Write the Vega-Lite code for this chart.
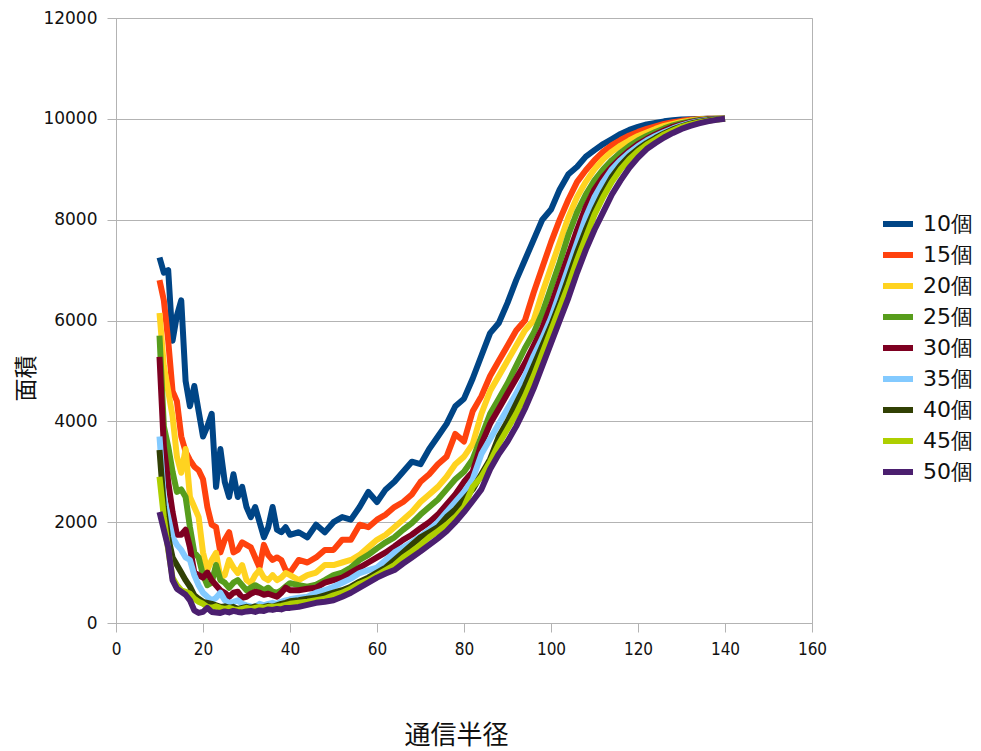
{
"$schema": "https://vega.github.io/schema/vega-lite/v6.json",
"width": 696, "height": 605,
"autosize": {"type": "none"},
"padding": {"left": 116, "top": 18, "right": 169, "bottom": 128},
"background": "white",
"config": {"view": {"stroke": "#b3b3b3", "strokeWidth": 1}},
"datasets": {
"s10": [{"x":10,"y":7250},{"x":11,"y":6950},{"x":12,"y":7000},{"x":13,"y":5600},{"x":14,"y":6100},{"x":15,"y":6400},{"x":16,"y":4800},{"x":17,"y":4300},{"x":18,"y":4700},{"x":19,"y":4200},{"x":20,"y":3700},{"x":21,"y":3900},{"x":22,"y":4150},{"x":23,"y":2700},{"x":24,"y":3450},{"x":25,"y":2800},{"x":26,"y":2500},{"x":27,"y":2950},{"x":28,"y":2500},{"x":29,"y":2700},{"x":30,"y":2300},{"x":31,"y":2100},{"x":32,"y":2300},{"x":33,"y":2000},{"x":34,"y":1700},{"x":35,"y":1900},{"x":36,"y":2300},{"x":37,"y":1850},{"x":38,"y":1800},{"x":39,"y":1900},{"x":40,"y":1750},{"x":42,"y":1800},{"x":44,"y":1700},{"x":46,"y":1950},{"x":48,"y":1800},{"x":50,"y":2000},{"x":52,"y":2100},{"x":54,"y":2050},{"x":56,"y":2300},{"x":58,"y":2600},{"x":60,"y":2400},{"x":62,"y":2650},{"x":64,"y":2800},{"x":66,"y":3000},{"x":68,"y":3200},{"x":70,"y":3150},{"x":72,"y":3450},{"x":74,"y":3700},{"x":76,"y":3950},{"x":78,"y":4300},{"x":80,"y":4450},{"x":82,"y":4850},{"x":84,"y":5300},{"x":86,"y":5750},{"x":88,"y":5950},{"x":90,"y":6350},{"x":92,"y":6800},{"x":94,"y":7200},{"x":96,"y":7600},{"x":98,"y":8000},{"x":100,"y":8200},{"x":102,"y":8600},{"x":104,"y":8900},{"x":106,"y":9050},{"x":108,"y":9250},{"x":110,"y":9380},{"x":112,"y":9500},{"x":114,"y":9600},{"x":116,"y":9700},{"x":118,"y":9780},{"x":120,"y":9840},{"x":122,"y":9890},{"x":124,"y":9920},{"x":126,"y":9950},{"x":128,"y":9970},{"x":130,"y":9985},{"x":132,"y":9990},{"x":134,"y":9995},{"x":136,"y":10000},{"x":138,"y":10000},{"x":140,"y":10000}],
"s15": [{"x":10,"y":6800},{"x":11,"y":6400},{"x":12,"y":5600},{"x":13,"y":4600},{"x":14,"y":4400},{"x":15,"y":3700},{"x":16,"y":3400},{"x":17,"y":3230},{"x":18,"y":3100},{"x":19,"y":3030},{"x":20,"y":2850},{"x":21,"y":2300},{"x":22,"y":1950},{"x":23,"y":1900},{"x":24,"y":1400},{"x":25,"y":1650},{"x":26,"y":1800},{"x":27,"y":1400},{"x":28,"y":1450},{"x":29,"y":1600},{"x":30,"y":1550},{"x":31,"y":1500},{"x":32,"y":1300},{"x":33,"y":1100},{"x":34,"y":1550},{"x":35,"y":1350},{"x":36,"y":1250},{"x":37,"y":1300},{"x":38,"y":1250},{"x":39,"y":1050},{"x":40,"y":1000},{"x":42,"y":1250},{"x":44,"y":1200},{"x":46,"y":1300},{"x":48,"y":1450},{"x":50,"y":1450},{"x":52,"y":1650},{"x":54,"y":1650},{"x":56,"y":1950},{"x":58,"y":1900},{"x":60,"y":2050},{"x":62,"y":2150},{"x":64,"y":2300},{"x":66,"y":2400},{"x":68,"y":2550},{"x":70,"y":2800},{"x":72,"y":2950},{"x":74,"y":3150},{"x":76,"y":3300},{"x":78,"y":3750},{"x":80,"y":3600},{"x":82,"y":4200},{"x":84,"y":4500},{"x":86,"y":4900},{"x":88,"y":5200},{"x":90,"y":5500},{"x":92,"y":5800},{"x":94,"y":6000},{"x":96,"y":6550},{"x":98,"y":7050},{"x":100,"y":7550},{"x":102,"y":8000},{"x":104,"y":8400},{"x":106,"y":8750},{"x":108,"y":8980},{"x":110,"y":9180},{"x":112,"y":9350},{"x":114,"y":9480},{"x":116,"y":9580},{"x":118,"y":9670},{"x":120,"y":9740},{"x":122,"y":9800},{"x":124,"y":9850},{"x":126,"y":9900},{"x":128,"y":9935},{"x":130,"y":9960},{"x":132,"y":9980},{"x":134,"y":9990},{"x":136,"y":10000},{"x":138,"y":10000},{"x":140,"y":10000}],
"s20": [{"x":10,"y":6150},{"x":11,"y":5100},{"x":12,"y":4600},{"x":13,"y":4100},{"x":14,"y":3300},{"x":15,"y":2980},{"x":16,"y":3450},{"x":17,"y":2500},{"x":18,"y":2300},{"x":19,"y":2100},{"x":20,"y":1400},{"x":21,"y":1050},{"x":22,"y":1250},{"x":23,"y":1390},{"x":24,"y":900},{"x":25,"y":950},{"x":26,"y":1250},{"x":27,"y":1100},{"x":28,"y":990},{"x":29,"y":1150},{"x":30,"y":850},{"x":31,"y":790},{"x":32,"y":950},{"x":33,"y":1050},{"x":34,"y":900},{"x":35,"y":850},{"x":36,"y":950},{"x":37,"y":850},{"x":38,"y":900},{"x":39,"y":990},{"x":40,"y":950},{"x":42,"y":850},{"x":44,"y":950},{"x":46,"y":1000},{"x":48,"y":1150},{"x":50,"y":1150},{"x":52,"y":1200},{"x":54,"y":1250},{"x":56,"y":1350},{"x":58,"y":1500},{"x":60,"y":1650},{"x":62,"y":1750},{"x":64,"y":1900},{"x":66,"y":2050},{"x":68,"y":2200},{"x":70,"y":2400},{"x":72,"y":2550},{"x":74,"y":2700},{"x":76,"y":2900},{"x":78,"y":3150},{"x":80,"y":3300},{"x":82,"y":3550},{"x":84,"y":4150},{"x":86,"y":4600},{"x":88,"y":4900},{"x":90,"y":5200},{"x":92,"y":5500},{"x":94,"y":5800},{"x":96,"y":6000},{"x":98,"y":6550},{"x":100,"y":7050},{"x":102,"y":7550},{"x":104,"y":8050},{"x":106,"y":8450},{"x":108,"y":8750},{"x":110,"y":9000},{"x":112,"y":9200},{"x":114,"y":9350},{"x":116,"y":9470},{"x":118,"y":9570},{"x":120,"y":9660},{"x":122,"y":9730},{"x":124,"y":9800},{"x":126,"y":9860},{"x":128,"y":9900},{"x":130,"y":9940},{"x":132,"y":9965},{"x":134,"y":9985},{"x":136,"y":9995},{"x":138,"y":10000},{"x":140,"y":10000}],
"s25": [{"x":10,"y":5700},{"x":11,"y":3900},{"x":12,"y":3500},{"x":13,"y":3000},{"x":14,"y":2600},{"x":15,"y":2650},{"x":16,"y":2500},{"x":17,"y":1900},{"x":18,"y":1400},{"x":19,"y":1300},{"x":20,"y":950},{"x":21,"y":750},{"x":22,"y":800},{"x":23,"y":1150},{"x":24,"y":850},{"x":25,"y":800},{"x":26,"y":700},{"x":27,"y":800},{"x":28,"y":850},{"x":29,"y":750},{"x":30,"y":650},{"x":31,"y":700},{"x":32,"y":750},{"x":33,"y":700},{"x":34,"y":650},{"x":35,"y":700},{"x":36,"y":620},{"x":37,"y":600},{"x":38,"y":650},{"x":39,"y":720},{"x":40,"y":790},{"x":42,"y":750},{"x":44,"y":720},{"x":46,"y":760},{"x":48,"y":850},{"x":50,"y":950},{"x":52,"y":1000},{"x":54,"y":1100},{"x":56,"y":1250},{"x":58,"y":1350},{"x":60,"y":1480},{"x":62,"y":1600},{"x":64,"y":1700},{"x":66,"y":1850},{"x":68,"y":1980},{"x":70,"y":2150},{"x":72,"y":2300},{"x":74,"y":2450},{"x":76,"y":2650},{"x":78,"y":2850},{"x":80,"y":3000},{"x":82,"y":3250},{"x":84,"y":3700},{"x":86,"y":4150},{"x":88,"y":4450},{"x":90,"y":4750},{"x":92,"y":5100},{"x":94,"y":5450},{"x":96,"y":5750},{"x":98,"y":6150},{"x":100,"y":6650},{"x":102,"y":7150},{"x":104,"y":7700},{"x":106,"y":8150},{"x":108,"y":8500},{"x":110,"y":8780},{"x":112,"y":9000},{"x":114,"y":9180},{"x":116,"y":9330},{"x":118,"y":9460},{"x":120,"y":9570},{"x":122,"y":9660},{"x":124,"y":9740},{"x":126,"y":9810},{"x":128,"y":9870},{"x":130,"y":9915},{"x":132,"y":9950},{"x":134,"y":9975},{"x":136,"y":9990},{"x":138,"y":10000},{"x":140,"y":10000}],
"s30": [{"x":10,"y":5280},{"x":11,"y":3500},{"x":12,"y":2800},{"x":13,"y":2200},{"x":14,"y":1750},{"x":15,"y":1750},{"x":16,"y":1850},{"x":17,"y":1500},{"x":18,"y":1000},{"x":19,"y":950},{"x":20,"y":900},{"x":21,"y":1000},{"x":22,"y":850},{"x":23,"y":750},{"x":24,"y":650},{"x":25,"y":600},{"x":26,"y":520},{"x":27,"y":600},{"x":28,"y":620},{"x":29,"y":500},{"x":30,"y":520},{"x":31,"y":580},{"x":32,"y":620},{"x":33,"y":600},{"x":34,"y":560},{"x":35,"y":580},{"x":36,"y":550},{"x":37,"y":520},{"x":38,"y":600},{"x":39,"y":700},{"x":40,"y":650},{"x":42,"y":650},{"x":44,"y":680},{"x":46,"y":700},{"x":48,"y":800},{"x":50,"y":850},{"x":52,"y":900},{"x":54,"y":1000},{"x":56,"y":1100},{"x":58,"y":1200},{"x":60,"y":1300},{"x":62,"y":1400},{"x":64,"y":1520},{"x":66,"y":1650},{"x":68,"y":1750},{"x":70,"y":1880},{"x":72,"y":2000},{"x":74,"y":2150},{"x":76,"y":2350},{"x":78,"y":2550},{"x":80,"y":2800},{"x":82,"y":3000},{"x":84,"y":3550},{"x":86,"y":3950},{"x":88,"y":4250},{"x":90,"y":4550},{"x":92,"y":4850},{"x":94,"y":5150},{"x":96,"y":5500},{"x":98,"y":5850},{"x":100,"y":6300},{"x":102,"y":6800},{"x":104,"y":7300},{"x":106,"y":7800},{"x":108,"y":8250},{"x":110,"y":8600},{"x":112,"y":8850},{"x":114,"y":9050},{"x":116,"y":9220},{"x":118,"y":9370},{"x":120,"y":9500},{"x":122,"y":9600},{"x":124,"y":9690},{"x":126,"y":9770},{"x":128,"y":9840},{"x":130,"y":9890},{"x":132,"y":9935},{"x":134,"y":9965},{"x":136,"y":9985},{"x":138,"y":9995},{"x":140,"y":10000}],
"s35": [{"x":10,"y":3700},{"x":11,"y":2500},{"x":12,"y":2100},{"x":13,"y":1700},{"x":14,"y":1550},{"x":15,"y":1450},{"x":16,"y":1300},{"x":17,"y":1250},{"x":18,"y":950},{"x":19,"y":750},{"x":20,"y":600},{"x":21,"y":520},{"x":22,"y":450},{"x":23,"y":500},{"x":24,"y":600},{"x":25,"y":450},{"x":26,"y":400},{"x":27,"y":420},{"x":28,"y":450},{"x":29,"y":380},{"x":30,"y":350},{"x":31,"y":330},{"x":32,"y":320},{"x":33,"y":380},{"x":34,"y":350},{"x":35,"y":380},{"x":36,"y":400},{"x":37,"y":380},{"x":38,"y":420},{"x":39,"y":450},{"x":40,"y":470},{"x":42,"y":500},{"x":44,"y":520},{"x":46,"y":600},{"x":48,"y":650},{"x":50,"y":720},{"x":52,"y":800},{"x":54,"y":880},{"x":56,"y":990},{"x":58,"y":1050},{"x":60,"y":1100},{"x":62,"y":1250},{"x":64,"y":1400},{"x":66,"y":1500},{"x":68,"y":1600},{"x":70,"y":1720},{"x":72,"y":1850},{"x":74,"y":2000},{"x":76,"y":2200},{"x":78,"y":2400},{"x":80,"y":2600},{"x":82,"y":2850},{"x":84,"y":3350},{"x":86,"y":3650},{"x":88,"y":3950},{"x":90,"y":4250},{"x":92,"y":4550},{"x":94,"y":4900},{"x":96,"y":5300},{"x":98,"y":5650},{"x":100,"y":6050},{"x":102,"y":6550},{"x":104,"y":7050},{"x":106,"y":7550},{"x":108,"y":8050},{"x":110,"y":8450},{"x":112,"y":8750},{"x":114,"y":9000},{"x":116,"y":9180},{"x":118,"y":9330},{"x":120,"y":9460},{"x":122,"y":9570},{"x":124,"y":9660},{"x":126,"y":9740},{"x":128,"y":9810},{"x":130,"y":9870},{"x":132,"y":9920},{"x":134,"y":9955},{"x":136,"y":9975},{"x":138,"y":9990},{"x":140,"y":10000}],
"s40": [{"x":10,"y":3430},{"x":11,"y":2300},{"x":12,"y":1700},{"x":13,"y":1300},{"x":14,"y":1150},{"x":15,"y":1000},{"x":16,"y":850},{"x":17,"y":720},{"x":18,"y":550},{"x":19,"y":480},{"x":20,"y":420},{"x":21,"y":400},{"x":22,"y":380},{"x":23,"y":350},{"x":24,"y":320},{"x":25,"y":330},{"x":26,"y":300},{"x":27,"y":320},{"x":28,"y":280},{"x":29,"y":300},{"x":30,"y":320},{"x":31,"y":300},{"x":32,"y":330},{"x":33,"y":310},{"x":34,"y":320},{"x":35,"y":340},{"x":36,"y":320},{"x":37,"y":350},{"x":38,"y":380},{"x":39,"y":400},{"x":40,"y":430},{"x":42,"y":450},{"x":44,"y":480},{"x":46,"y":500},{"x":48,"y":550},{"x":50,"y":600},{"x":52,"y":650},{"x":54,"y":720},{"x":56,"y":820},{"x":58,"y":900},{"x":60,"y":1000},{"x":62,"y":1100},{"x":64,"y":1250},{"x":66,"y":1400},{"x":68,"y":1550},{"x":70,"y":1700},{"x":72,"y":1800},{"x":74,"y":1900},{"x":76,"y":2100},{"x":78,"y":2250},{"x":80,"y":2450},{"x":82,"y":2650},{"x":84,"y":2950},{"x":86,"y":3250},{"x":88,"y":3700},{"x":90,"y":4000},{"x":92,"y":4350},{"x":94,"y":4700},{"x":96,"y":5100},{"x":98,"y":5500},{"x":100,"y":5900},{"x":102,"y":6350},{"x":104,"y":6850},{"x":106,"y":7350},{"x":108,"y":7800},{"x":110,"y":8200},{"x":112,"y":8550},{"x":114,"y":8850},{"x":116,"y":9080},{"x":118,"y":9260},{"x":120,"y":9400},{"x":122,"y":9520},{"x":124,"y":9620},{"x":126,"y":9710},{"x":128,"y":9790},{"x":130,"y":9850},{"x":132,"y":9905},{"x":134,"y":9945},{"x":136,"y":9970},{"x":138,"y":9990},{"x":140,"y":10000}],
"s45": [{"x":10,"y":2900},{"x":11,"y":2100},{"x":12,"y":1450},{"x":13,"y":900},{"x":14,"y":750},{"x":15,"y":650},{"x":16,"y":620},{"x":17,"y":580},{"x":18,"y":480},{"x":19,"y":420},{"x":20,"y":380},{"x":21,"y":320},{"x":22,"y":300},{"x":23,"y":330},{"x":24,"y":300},{"x":25,"y":280},{"x":26,"y":300},{"x":27,"y":270},{"x":28,"y":260},{"x":29,"y":280},{"x":30,"y":300},{"x":31,"y":280},{"x":32,"y":300},{"x":33,"y":320},{"x":34,"y":300},{"x":35,"y":320},{"x":36,"y":320},{"x":37,"y":330},{"x":38,"y":340},{"x":39,"y":360},{"x":40,"y":380},{"x":42,"y":400},{"x":44,"y":420},{"x":46,"y":450},{"x":48,"y":480},{"x":50,"y":550},{"x":52,"y":600},{"x":54,"y":680},{"x":56,"y":780},{"x":58,"y":850},{"x":60,"y":950},{"x":62,"y":1050},{"x":64,"y":1150},{"x":66,"y":1300},{"x":68,"y":1420},{"x":70,"y":1550},{"x":72,"y":1700},{"x":74,"y":1820},{"x":76,"y":1950},{"x":78,"y":2100},{"x":80,"y":2300},{"x":82,"y":2700},{"x":84,"y":2900},{"x":86,"y":3200},{"x":88,"y":3550},{"x":90,"y":3850},{"x":92,"y":4150},{"x":94,"y":4500},{"x":96,"y":4900},{"x":98,"y":5350},{"x":100,"y":5800},{"x":102,"y":6250},{"x":104,"y":6700},{"x":106,"y":7200},{"x":108,"y":7650},{"x":110,"y":8100},{"x":112,"y":8450},{"x":114,"y":8750},{"x":116,"y":9000},{"x":118,"y":9200},{"x":120,"y":9360},{"x":122,"y":9490},{"x":124,"y":9590},{"x":126,"y":9690},{"x":128,"y":9770},{"x":130,"y":9840},{"x":132,"y":9890},{"x":134,"y":9930},{"x":136,"y":9960},{"x":138,"y":9985},{"x":140,"y":10000}],
"s50": [{"x":10,"y":2200},{"x":11,"y":1850},{"x":12,"y":1500},{"x":13,"y":850},{"x":14,"y":680},{"x":15,"y":620},{"x":16,"y":560},{"x":17,"y":450},{"x":18,"y":250},{"x":19,"y":200},{"x":20,"y":220},{"x":21,"y":300},{"x":22,"y":220},{"x":23,"y":210},{"x":24,"y":200},{"x":25,"y":230},{"x":26,"y":210},{"x":27,"y":240},{"x":28,"y":220},{"x":29,"y":210},{"x":30,"y":230},{"x":31,"y":240},{"x":32,"y":220},{"x":33,"y":250},{"x":34,"y":240},{"x":35,"y":270},{"x":36,"y":260},{"x":37,"y":280},{"x":38,"y":270},{"x":39,"y":300},{"x":40,"y":300},{"x":42,"y":320},{"x":44,"y":360},{"x":46,"y":400},{"x":48,"y":420},{"x":50,"y":450},{"x":52,"y":520},{"x":54,"y":600},{"x":56,"y":700},{"x":58,"y":800},{"x":60,"y":900},{"x":62,"y":980},{"x":64,"y":1050},{"x":66,"y":1180},{"x":68,"y":1300},{"x":70,"y":1420},{"x":72,"y":1550},{"x":74,"y":1680},{"x":76,"y":1820},{"x":78,"y":2000},{"x":80,"y":2200},{"x":82,"y":2420},{"x":84,"y":2650},{"x":86,"y":3050},{"x":88,"y":3350},{"x":90,"y":3600},{"x":92,"y":3900},{"x":94,"y":4250},{"x":96,"y":4650},{"x":98,"y":5100},{"x":100,"y":5550},{"x":102,"y":6000},{"x":104,"y":6450},{"x":106,"y":6950},{"x":108,"y":7400},{"x":110,"y":7800},{"x":112,"y":8150},{"x":114,"y":8500},{"x":116,"y":8780},{"x":118,"y":9030},{"x":120,"y":9230},{"x":122,"y":9400},{"x":124,"y":9520},{"x":126,"y":9630},{"x":128,"y":9720},{"x":130,"y":9800},{"x":132,"y":9860},{"x":134,"y":9910},{"x":136,"y":9950},{"x":138,"y":9980},{"x":140,"y":10000}]
},
"encoding": {
"x": {"field": "x", "type": "quantitative", "scale": {"domain": [0, 160], "nice": false},
 "axis": {"title": "通信半径", "values": [0,20,40,60,80,100,120,140,160], "grid": false, "labelFlush": false, "labelOverlap": false,
  "labelFont": "DejaVu Sans Condensed, Liberation Sans Narrow, DejaVu Sans, sans-serif", "labelFontSize": 17, "labelColor": "#111", "labelPadding": 9,
  "tickSize": 9, "tickColor": "#b3b3b3", "domainColor": "#b3b3b3",
  "titleFont": "Noto Sans CJK JP", "titleFontSize": 26, "titleFontWeight": "normal", "titleColor": "#111",
  "titleX": 340, "titleY": 112, "titleBaseline": "middle", "titleAlign": "center"}},
"y": {"field": "y", "type": "quantitative", "scale": {"domain": [0, 12000], "nice": false},
 "axis": {"title": "面積", "values": [0,2000,4000,6000,8000,10000,12000], "format": "d", "grid": true, "gridColor": "#b3b3b3",
  "labelFont": "DejaVu Sans", "labelFontSize": 17, "labelColor": "#111", "labelPadding": 10,
  "tickSize": 9, "tickColor": "#b3b3b3", "domainColor": "#b3b3b3",
  "titleFont": "Noto Sans CJK JP", "titleFontSize": 23, "titleFontWeight": "normal", "titleColor": "#111",
  "titleAngle": -90, "titleX": -90, "titleY": 360, "titleBaseline": "middle", "titleAlign": "center"}}
},
"layer": [
{"data": {"name": "s10"}, "mark": {"type": "line", "strokeWidth": 6, "strokeJoin": "round"},
 "encoding": {"color": {"datum": "10個", "type": "nominal",
  "scale": {"domain": ["10個","15個","20個","25個","30個","35個","40個","45個","50個"],
   "range": ["#004586","#ff420e","#ffd320","#579d1c","#7e0021","#83caff","#314004","#aecf00","#4b1f6f"]},
  "legend": {"title": null, "orient": "none", "legendX": 764, "legendY": 188, "padding": 0,
   "symbolType": "stroke", "symbolSize": 900, "symbolStrokeWidth": 6, "rowPadding": 1,
   "labelFont": "DejaVu Sans", "labelFontSize": 22, "labelColor": "#111", "labelOffset": 7, "labelLimit": 200}}}},
{"data": {"name": "s15"}, "mark": {"type": "line", "strokeWidth": 6, "strokeJoin": "round"}, "encoding": {"color": {"datum": "15個", "type": "nominal"}}},
{"data": {"name": "s20"}, "mark": {"type": "line", "strokeWidth": 6, "strokeJoin": "round"}, "encoding": {"color": {"datum": "20個", "type": "nominal"}}},
{"data": {"name": "s25"}, "mark": {"type": "line", "strokeWidth": 6, "strokeJoin": "round"}, "encoding": {"color": {"datum": "25個", "type": "nominal"}}},
{"data": {"name": "s30"}, "mark": {"type": "line", "strokeWidth": 6, "strokeJoin": "round"}, "encoding": {"color": {"datum": "30個", "type": "nominal"}}},
{"data": {"name": "s35"}, "mark": {"type": "line", "strokeWidth": 6, "strokeJoin": "round"}, "encoding": {"color": {"datum": "35個", "type": "nominal"}}},
{"data": {"name": "s40"}, "mark": {"type": "line", "strokeWidth": 6, "strokeJoin": "round"}, "encoding": {"color": {"datum": "40個", "type": "nominal"}}},
{"data": {"name": "s45"}, "mark": {"type": "line", "strokeWidth": 6, "strokeJoin": "round"}, "encoding": {"color": {"datum": "45個", "type": "nominal"}}},
{"data": {"name": "s50"}, "mark": {"type": "line", "strokeWidth": 6, "strokeJoin": "round"}, "encoding": {"color": {"datum": "50個", "type": "nominal"}}}
]
}
